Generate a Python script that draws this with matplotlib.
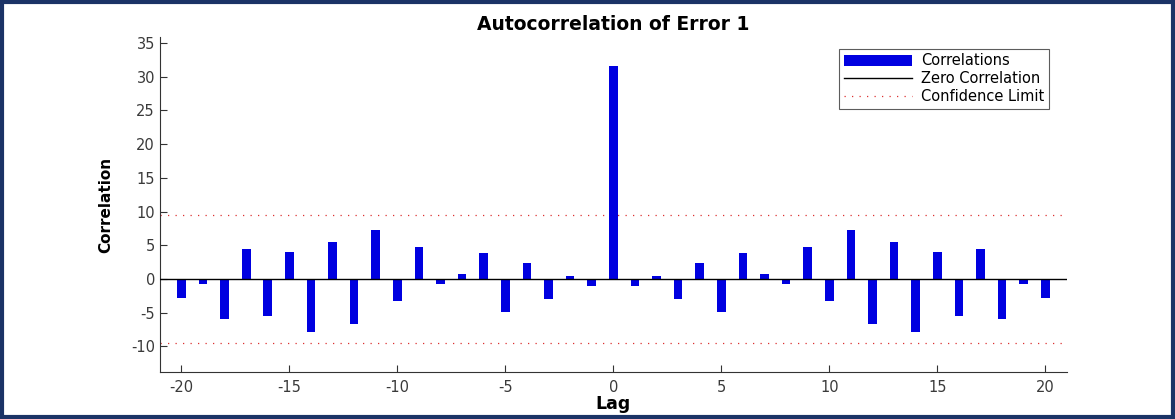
import matplotlib
matplotlib.use("Agg")
import matplotlib.pyplot as plt
from matplotlib.patches import Rectangle

plt.rcParams["font.family"] = ["DejaVu Sans"]
plt.rcParams["axes.unicode_minus"] = False

# Data
lags = list(range(-20, 21))
negLagCorr = [-2.8, -0.7, -5.9, 4.5, -5.5, 4.0, -7.8, 5.5, -6.6, 7.2,
              -3.3, 4.75, -0.7, 0.7, 3.9, -4.85, 2.3, -3.0, 0.5, -1.1]
zeroLagCorr = 31.6
correlations = negLagCorr + [zeroLagCorr] + negLagCorr[::-1]
confLimit = 9.5
xTicks = [-20, -15, -10, -5, 0, 5, 10, 15, 20]
yTicks = [-10, -5, 0, 5, 10, 15, 20, 25, 30, 35]

fig = plt.figure(figsize=(11.75, 4.19), dpi=100)
ax = fig.add_axes([0.136, 0.112, 0.772, 0.800])

# Bars, zero line and confidence limits
bars = ax.bar(lags, correlations, width=0.4, color="#0000e0", zorder=2)
zeroLine = ax.axhline(0, color="black", linewidth=1.0, zorder=3)
confLine = ax.axhline(confLimit, color="#dd3030", linewidth=0.9,
                      linestyle=(0, (1, 5)), zorder=1)
ax.axhline(-confLimit, color="#dd3030", linewidth=0.9, linestyle=(0, (1, 5)), zorder=1)

ax.set_xlim(-21, 21)
ax.set_ylim(-13.8, 35.9)
ax.set_xticks(xTicks)
ax.set_yticks(yTicks)
ax.tick_params(direction="in", length=5, labelsize=10.5, labelcolor="#3a3a3a", color="#333333")
ax.tick_params(axis="x", pad=6)
ax.spines["top"].set_visible(False)
ax.spines["right"].set_visible(False)
ax.spines["left"].set_color("#333333")
ax.spines["bottom"].set_color("#333333")

ax.set_title("Autocorrelation of Error 1", fontsize=13.5, fontweight="bold", pad=5)
ax.set_xlabel("Lag", fontsize=12.5, fontweight="bold", labelpad=0)
ax.set_ylabel("Correlation", fontsize=11, fontweight="bold", labelpad=13)

leg = ax.legend([bars, zeroLine, confLine],
                ["Correlations", "Zero Correlation", "Confidence Limit"],
                loc="upper right", bbox_to_anchor=(0.98, 0.964), borderaxespad=0,
                fontsize=10.5, frameon=True, fancybox=False, edgecolor="#333333",
                handlelength=4.7, handleheight=0.75, borderpad=0.3,
                labelspacing=0.2, handletextpad=0.6)
leg.get_frame().set_linewidth(0.8)

# Dark frame around the whole figure
fig.patches.append(Rectangle((0.002, 0.004), 0.996, 0.992, transform=fig.transFigure,
                             fill=False, edgecolor="#1b3366", linewidth=3))

fig.savefig("out.png", dpi=100)
